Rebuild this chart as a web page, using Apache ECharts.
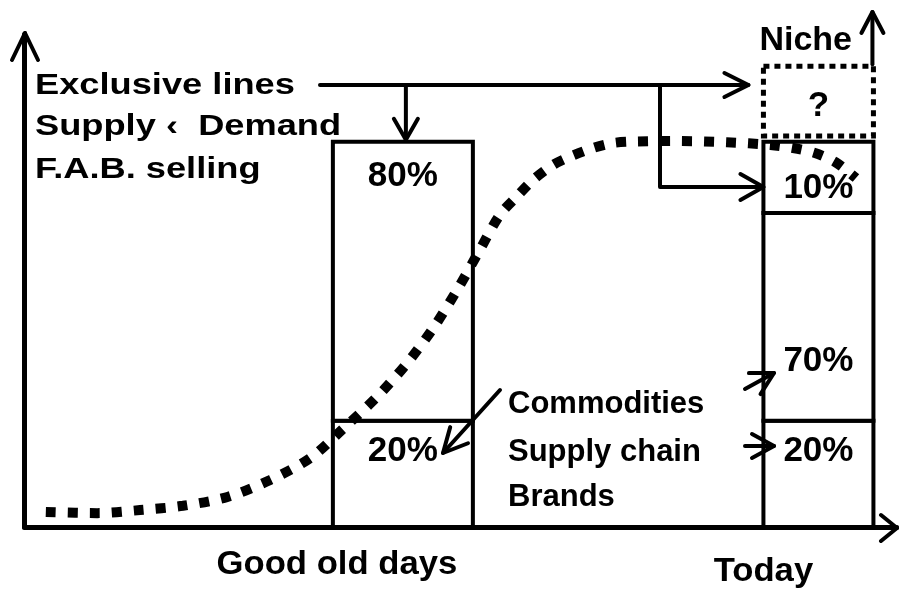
<!DOCTYPE html>
<html>
<head>
<meta charset="utf-8">
<script src="https://cdn.jsdelivr.net/npm/echarts@6/dist/echarts.min.js"></script>
<style>
  html, body { margin: 0; padding: 0; background: #fff; }
  #main { width: 899px; height: 589px; }
</style>
</head>
<body>
<div id="main"></div>
<script>
// bars: where they sit on the time axis, segment heights (bottom -> top) and their labels
var categories = ['Good old days', 'Today'];
var categoryTime = [43.4, 91.0];
var goodOldLabels = ['20%', '80%'];
var goodOldHeights = [27.6, 72.4];
var todayLabels = ['20%', '70%', '10%'];
var todayHeights = [27.6, 53.9, 18.5];
var nicheLabel = '?';
var nicheRange = [101.5, 119.6];

// dotted s-curve
var curveTime = [2.5, 8.4, 13.3, 18.2, 23.3, 28.2, 32.8, 36.5, 40.4, 43.9, 46.9, 49.6, 52.2, 54.5,
  56.5, 58.3, 60.6, 62.5, 65.2, 67.5, 70.2, 75.1, 80.5, 85.5, 88.1, 90.6, 92.9, 95.3];
var curveLevel = [3.9, 3.6, 4.4, 5.5, 7.8, 12.2, 17.9, 25.4, 33.7, 42.6, 51.7, 61.5, 71.9, 81.0,
  85.9, 90.1, 94.0, 96.1, 98.4, 99.7, 100.1, 100.2, 99.9, 99.2, 98.4, 97.1, 94.8, 90.6];

var leftNotes = ['Exclusive lines', 'Supply \u2039  Demand', 'F.A.B. selling'];
var rightNotes = ['Commodities', 'Supply chain', 'Brands'];
var nicheTitle = 'Niche';

var FONT = '"Liberation Sans", Arial, sans-serif';
var barWidths = [140, 110];
var labelDy = [[31, 34], [31, 148, 46]];
var nicheDy = 40;

var segments = [];
function addBar(ci, heights, labels) {
  var base = 0;
  for (var j = 0; j < heights.length; j++) {
    segments.push({ value: [categoryTime[ci], base, base + heights[j], ci, j], label: labels[j], dy: labelDy[ci][j], dashed: false });
    base += heights[j];
  }
}
addBar(0, goodOldHeights, goodOldLabels);
addBar(1, todayHeights, todayLabels);
segments.push({ value: [categoryTime[1], nicheRange[0], nicheRange[1], 1, 3], label: nicheLabel, dy: nicheDy, dashed: true });

var curveData = [];
for (var i = 0; i < curveTime.length; i++) {
  curveData.push([curveTime[i], curveLevel[i]]);
}

var chart = echarts.init(document.getElementById('main'));

function renderSegment(params, api) {
  var seg = segments[params.dataIndex];
  var ci = api.value(3);
  var p0 = api.coord([api.value(0), api.value(1)]);
  var p1 = api.coord([api.value(0), api.value(2)]);
  var w = barWidths[ci];
  var rectStyle = seg.dashed
    ? { fill: 'none', stroke: '#000', lineWidth: 5, lineDash: [6, 5] }
    : { fill: '#fff', stroke: '#000', lineWidth: 4 };
  return {
    type: 'group',
    children: [
      { type: 'rect', shape: { x: p0[0] - w / 2, y: p1[1], width: w, height: p0[1] - p1[1] }, style: rectStyle },
      {
        type: 'text', x: p0[0], y: p1[1] + seg.dy,
        style: { text: seg.label, fill: '#000', fontSize: 35, fontWeight: 'bold', fontFamily: FONT, align: 'center', verticalAlign: 'middle' }
      }
    ]
  };
}

var options = {
  animation: false,
  backgroundColor: '#fff',
  grid: { left: 24, right: 2, top: 34, bottom: 62 },
  xAxis: {
    type: 'value', min: 0, max: 100,
    axisLine: { show: true, lineStyle: { color: '#000', width: 4 } },
    axisTick: { show: false }, axisLabel: { show: false }, splitLine: { show: false }
  },
  yAxis: {
    type: 'value', min: 0, max: 128,
    axisLine: { show: true, lineStyle: { color: '#000', width: 4 } },
    axisTick: { show: false }, axisLabel: { show: false }, splitLine: { show: false }
  },
  series: [
    {
      type: 'custom',
      renderItem: renderSegment,
      encode: { x: 0, y: [1, 2] },
      data: segments.map(function (s) { return s.value; }),
      z: 2,
      silent: true
    },
    {
      type: 'line',
      data: curveData,
      smooth: 0.3,
      showSymbol: false,
      lineStyle: { color: '#000', width: 10, type: [10, 12], cap: 'butt' },
      z: 5,
      silent: true
    }
  ]
};
chart.setOption(options);

// annotations: arrows and notes, anchored to the bars through the axes
function px(x, y) { return chart.convertToPixel({ gridIndex: 0 }, [x, y]); }

var lineSt = { stroke: '#000', lineWidth: 4, fill: null, lineCap: 'round', lineJoin: 'round' };
function arrow(points, headLen, headHalf) {
  var n = points.length, tip = points[n - 1], prev = points[n - 2];
  var dx = tip[0] - prev[0], dy = tip[1] - prev[1];
  var len = Math.sqrt(dx * dx + dy * dy);
  var ux = dx / len, uy = dy / len;
  var bx = tip[0] - ux * headLen, by = tip[1] - uy * headLen;
  var a = [bx - uy * headHalf, by + ux * headHalf];
  var b = [bx + uy * headHalf, by - ux * headHalf];
  return [
    { type: 'polyline', z: 10, shape: { points: points }, style: lineSt },
    { type: 'polyline', z: 10, shape: { points: [a, tip, b] }, style: lineSt }
  ];
}
function note(text, x, y, size, align, sx) {
  return {
    type: 'text', z: 10, x: x, y: y, scaleX: sx || 1,
    style: { text: text, fill: '#000', fontSize: size, fontWeight: 'bold', fontFamily: FONT, align: align, verticalAlign: 'middle' }
  };
}

var origin = px(0, 0);
var topY = px(0, 128)[1];
var endX = px(100, 0)[0];
var bar1X = px(categoryTime[0], 0)[0];
var bar2X = px(categoryTime[1], 0)[0];
var barTop = px(0, 100)[1];
var bar2Left = bar2X - barWidths[1] / 2;
var bar2Right = bar2X + barWidths[1] / 2;
var nicheTop = px(0, nicheRange[1])[1];
var midToday = px(0, todayHeights[0] + todayHeights[1] / 2)[1];

var g = [];
// axis heads
g = g.concat(arrow([[origin[0] + 1, origin[1]], [origin[0] + 1, topY - 1]], 27, 13));
g = g.concat(arrow([[origin[0], origin[1] + 1], [endX, origin[1] + 1]], 16, 13));
// exclusive lines -> niche / 80% / 10%
var exY = 85;
g = g.concat(arrow([[320, exY], [bar2Left - 15, exY]], 24, 12));
g = g.concat(arrow([[bar1X + 3, exY], [bar1X + 3, barTop - 2]], 21, 12));
g = g.concat(arrow([[660, exY], [660, 187], [bar2Left, 187]], 23, 13));
// niche arrow
g = g.concat(arrow([[bar2Right - 1, nicheTop - 2], [bar2Right - 1, 12]], 21, 11));
// commodities arrows
g = g.concat(arrow([[500, 390], [443, 453]], 24, 12));
g = g.concat(arrow([[745, 389], [774, 373]], 22, 12));
g = g.concat(arrow([[745, 446], [774, 446]], 22, 12));

for (var k = 0; k < leftNotes.length; k++) {
  g.push(note(leftNotes[k], 35, [86, 127, 170][k], 29, 'left', 1.25));
}
for (var m = 0; m < rightNotes.length; m++) {
  g.push(note(rightNotes[m], 508, [404, 452, 497][m], 31, 'left', 1));
}
g.push(note(nicheTitle, 852, 41, 34, 'right', 1));
g.push(note(categories[0], bar1X - barWidths[0] / 2 + 4, 565, 33, 'center', 1.05));
g.push(note(categories[1], bar2Left, 572, 33, 'center', 1.05));

chart.setOption({ graphic: g });
</script>
</body>
</html>
